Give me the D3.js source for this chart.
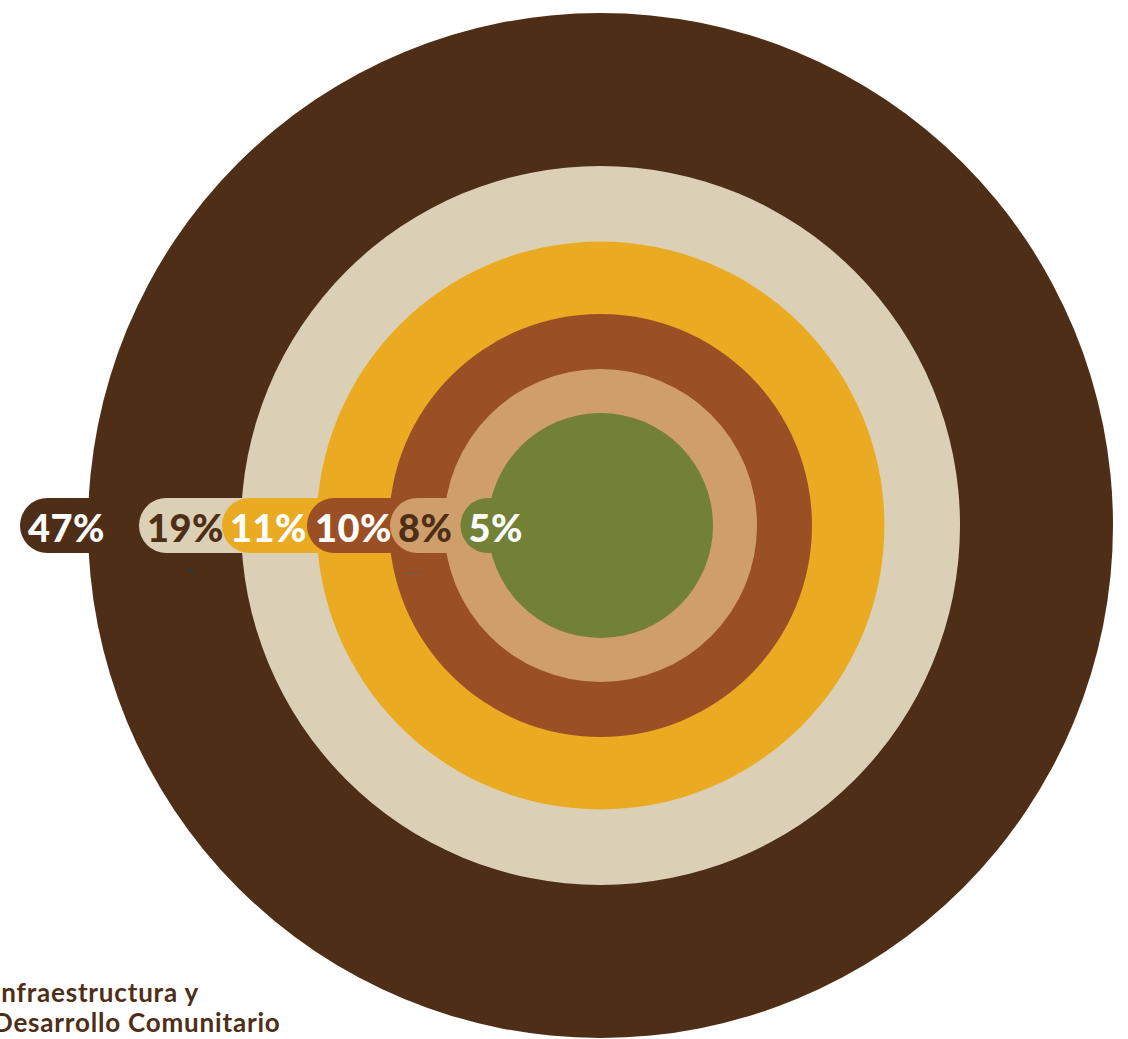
<html>
<head>
    <script src="https://d3js.org/d3.v7.min.js"></script>
    <style>
        body { margin: 0; background: #fff; }
        .pct { font-family: Lato, 'Noto Sans', sans-serif; font-weight: 900; letter-spacing: 0.5px; }
        .caption { font-family: Lato, 'Noto Sans', sans-serif; font-weight: 700; fill: #4e2e17; letter-spacing: 0.8px; }
    </style>
</head>
<body>
    <svg id="rings" width="1128" height="1039"></svg>
<script>
    // Ring data, outer ring first
    const labels = ['47%', '19%', '11%', '10%', '8%', '5%'];
    const values = [47, 19, 11, 10, 8, 5];
    // radius of each disc relative to the outer one
    const relRadius = [1, 0.7015, 0.554, 0.4127, 0.3054, 0.2195];
    // where the label pill starts, relative to the outer radius (0 = centre, 1 = outer edge)
    const pillStart = [1.1327, 0.9005, 0.7385, 0.5727, 0.4107, 0.2732];
    const colors = ['#4e2e17', '#dbd0b6', '#eaab23', '#9b4f24', '#cf9e6b', '#728136'];
    const textColors = ['#ffffff', '#4e2e17', '#ffffff', '#ffffff', '#4e2e17', '#ffffff'];
    const caption = ['Infraestructura y', 'Desarrollo Comunitario'];

    const svg = d3.select('#rings');
    const cx = 600.5, cy = 525.5;
    const outerR = 512.5;
    const pillH = 55;

    const r = d3.scaleLinear().domain([0, 1]).range([0, outerR]);

    const plot = svg.append('g').attr('transform', `translate(${cx}, ${cy})`);

    const rings = values.map((v, i) => ({
        value: v, label: labels[i], rel: relRadius[i], start: pillStart[i],
        color: colors[i], textColor: textColors[i]
    }));

    // each disc followed by its label pill, so inner discs cover outer pills
    rings.forEach(d => {
        const g = plot.append('g').attr('class', 'ring');
        g.append('circle')
            .attr('r', r(d.rel))
            .attr('fill', d.color);
        g.append('rect')
            .attr('x', -r(d.start))
            .attr('y', -pillH / 2)
            .attr('width', r(d.start))
            .attr('height', pillH)
            .attr('rx', pillH / 2)
            .attr('fill', d.color);
        g.append('text')
            .attr('class', 'pct')
            .attr('x', -r(d.start) + 8)
            .attr('y', 1)
            .attr('dominant-baseline', 'central')
            .attr('font-size', 38)
            .attr('fill', d.textColor)
            .text(d.label);
    });

    // two stray tick marks under the pills in the original
    plot.append('rect').attr('x', -r(0.808)).attr('y', 44.5).attr('width', 7).attr('height', 2).attr('fill', '#233a3e');
    plot.append('rect').attr('x', -r(0.384)).attr('y', 46.5).attr('width', 18).attr('height', 1).attr('fill', '#6b5a4a');

    // caption, partly cut off at the left edge
    svg.append('text')
        .attr('class', 'caption')
        .attr('font-size', 26)
        .selectAll('tspan')
        .data(caption)
        .join('tspan')
        .attr('x', -7)
        .attr('y', (d, i) => 1002 + i * 30)
        .text(d => d);
</script>
</body>
</html>
